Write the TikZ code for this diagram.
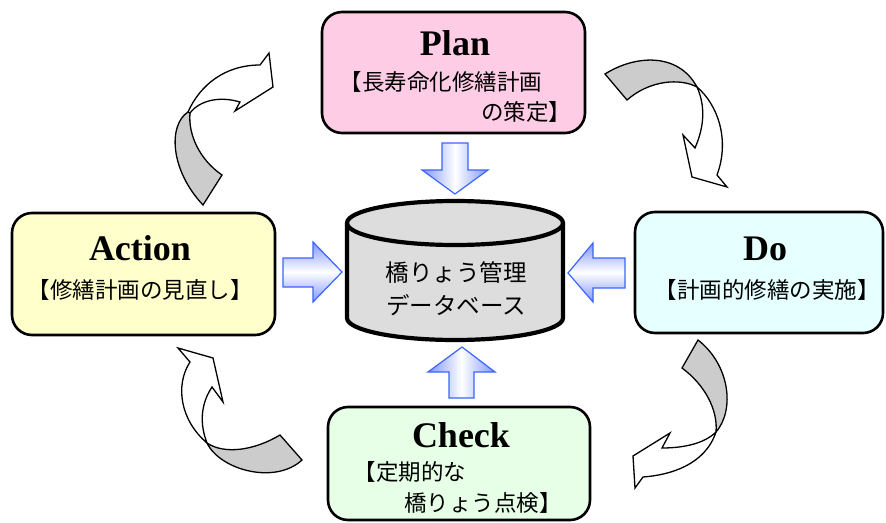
\documentclass[tikz,border=0pt]{standalone}
\usepackage{fontspec}
\setmainfont{Liberation Serif}
\newfontfamily\jpfont{Noto Sans CJK JP}
\definecolor{planpink}{RGB}{255,204,230}
\definecolor{doblue}{RGB}{230,255,255}
\definecolor{checkgreen}{RGB}{230,255,230}
\definecolor{actyellow}{RGB}{255,255,204}
\definecolor{dbgray}{RGB}{221,221,221}
\definecolor{turngray}{RGB}{204,204,204}
\definecolor{arrowblue}{RGB}{60,100,255}
\definecolor{arrowshade}{RGB}{130,150,255}

\begin{document}
\begin{tikzpicture}[x=1pt, y=-1pt,
    phasebox/.style={draw, line width=2.6pt, rounded corners=20pt, inner sep=0pt},
    phasetitle/.style={font=\fontsize{36}{36}\selectfont\bfseries, anchor=base, inner sep=0pt},
    phasetext/.style={font=\jpfont\fontsize{22.5}{22.5}\selectfont, inner sep=0pt},
    dbtext/.style={font=\jpfont\fontsize{23.5}{23.5}\selectfont, inner sep=0pt},
    bigarrow/.style={draw=arrowblue, line width=1.2pt, line join=miter},
    turnface/.style={draw, line width=1.3pt, fill=white, line join=miter},
    turnback/.style={draw, line width=1.3pt, fill=turngray, line join=miter}]
  \useasboundingbox (0,0) rectangle (886,522);

  % the four phases
  \node[phasebox, fill=planpink, minimum width=263pt, minimum height=121pt] (plan) at (453.5,72.5) {};
  \node[phasebox, fill=doblue, minimum width=248pt, minimum height=121pt] (do) at (759,272.5) {};
  \node[phasebox, fill=checkgreen, minimum width=262pt, minimum height=113pt] (check) at (459,463.5) {};
  \node[phasebox, fill=actyellow, minimum width=263pt, minimum height=122pt] (action) at (143.5,274) {};

  \node[phasetitle] (plantitle) at (455,55) {Plan};
  \node[phasetext] (planline1) at (441,82) {【長寿命化修繕計画};
  \node[phasetext] (planline2) at (526,112) {の策定】};
  \node[phasetitle] (dotitle) at (765,260) {Do};
  \node[phasetext] (doline) at (767,290) {【計画的修繕の実施】};
  \node[phasetitle] (checktitle) at (461,447) {Check};
  \node[phasetext] (checkline1) at (410,472) {【定期的な};
  \node[phasetext] (checkline2) at (483,503) {橋りょう点検】};
  \node[phasetitle] (actiontitle) at (140,260) {Action};
  \node[phasetext] (actionline) at (140,290) {【修繕計画の見直し】};

  % database
  \draw[line width=4.2pt, fill=dbgray] (347,223) -- (347,318)
    arc[start angle=180, end angle=360, x radius=108pt, y radius=22pt] -- (563,223)
    arc[start angle=0, end angle=180, x radius=108pt, y radius=22pt] -- cycle;
  \draw[line width=4.2pt] (347,223) arc[start angle=180, end angle=360, x radius=108pt, y radius=22pt];
  \node[dbtext] (dbline1) at (456,273) {橋りょう管理};
  \node[dbtext] (dbline2) at (456,305) {データベース};

  % arrows into the database
  \draw[bigarrow, left color=arrowshade, right color=arrowshade, middle color=white]
    (442,143) -- (468,143) -- (468,170) -- (488,170) -- (455,194) -- (422,170) -- (442,170) -- cycle;
  \draw[bigarrow, top color=arrowshade, bottom color=arrowshade, middle color=white]
    (283,258) -- (313,258) -- (313,242) -- (342,272) -- (313,302) -- (313,287) -- (283,287) -- cycle;
  \draw[bigarrow, top color=arrowshade, bottom color=arrowshade, middle color=white]
    (625,258) -- (593,258) -- (593,243) -- (568,273) -- (593,302) -- (593,288) -- (625,288) -- cycle;
  \draw[bigarrow, left color=arrowshade, right color=arrowshade, middle color=white]
    (449,398) -- (474,398) -- (474,372) -- (495,372) -- (462,347) -- (428,372) -- (449,372) -- cycle;

  % turning arrows of the cycle
  \draw[turnback] (203,205) -- (222,175) .. controls (200,160) and (188,135) .. (190,113)
    -- (188,112) .. controls (168,125) and (170,170) .. (203,205) -- cycle;
  \draw[turnface] (188,112) .. controls (200,85) and (225,65) .. (260,65) -- (269,53) -- (273,87)
    -- (235,111) -- (240,102) .. controls (220,96) and (200,100) .. (190,113) -- cycle;

  \draw[turnback] (605,74) .. controls (635,55) and (678,52) .. (697,87)
    .. controls (680,78) and (650,80) .. (627,100) -- cycle;
  \draw[turnface] (697,87) .. controls (718,105) and (730,140) .. (717,175) -- (727,187) -- (692,177)
    -- (683,135) -- (695,148) .. controls (705,125) and (705,105) .. (697,87) -- cycle;

  \draw[turnback] (698,340) .. controls (730,365) and (735,410) .. (716,432)
    .. controls (718,410) and (705,385) .. (682,368) -- cycle;
  \draw[turnface] (716,432) .. controls (705,465) and (670,475) .. (643,477) -- (635,488) -- (633,456)
    -- (670,433) -- (662,448) .. controls (685,448) and (705,443) .. (716,432) -- cycle;

  \draw[turnback] (280,435) .. controls (255,450) and (225,455) .. (207,443)
    .. controls (220,470) and (275,485) .. (302,460) -- cycle;
  \draw[turnface] (207,443) .. controls (180,420) and (175,385) .. (190,362) -- (178,348) -- (213,358)
    -- (223,402) -- (212,387) .. controls (200,405) and (200,425) .. (207,443) -- cycle;
\end{tikzpicture}
\end{document}
